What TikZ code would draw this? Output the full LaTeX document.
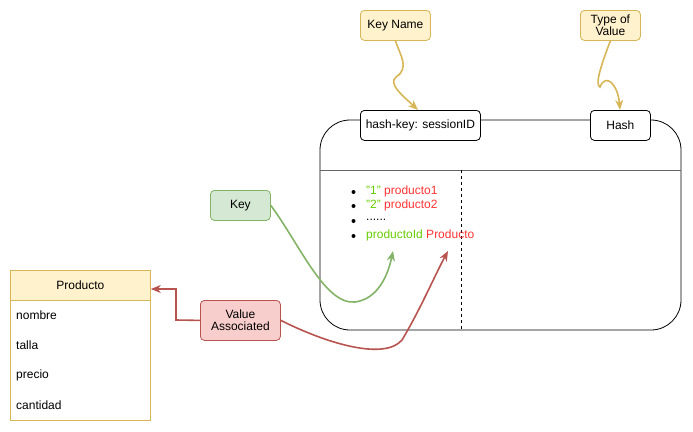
\documentclass[tikz,border=0pt]{standalone}
\usepackage{fontspec}
\setmainfont{Liberation Sans}
\usetikzlibrary{arrows.meta}
\definecolor{yfill}{HTML}{FFF2CC}
\definecolor{ydraw}{HTML}{D6B656}
\definecolor{gfill}{HTML}{D5E8D4}
\definecolor{gdraw}{HTML}{82B366}
\definecolor{rfill}{HTML}{F8CECC}
\definecolor{rdraw}{HTML}{B85450}
\definecolor{lgreen}{HTML}{66CC00}
\definecolor{lred}{HTML}{FF3333}
\definecolor{sepgray}{HTML}{666666}
\tikzset{
  txt/.style={font=\fontsize{12}{14}\selectfont},
  box/.style={txt, draw, rounded corners=4pt, line width=0.8pt, inner sep=0pt, align=center, anchor=north west},
  ybox/.style={box, fill=yfill, draw=ydraw},
  gbox/.style={box, fill=gfill, draw=gdraw},
  rbox/.style={box, fill=rfill, draw=rdraw},
  wbox/.style={box, fill=white, draw=black},
  conn/.style={line width=1.6pt, -{Stealth[length=10pt,width=8pt,inset=3pt]}},
  rowtxt/.style={txt, anchor=west, inner sep=0pt},
}
\begin{document}
\begin{tikzpicture}[x=1pt,y=-1pt]
\useasboundingbox (0,0) rectangle (693,431);
% container
\draw[line width=0.8pt, rounded corners=30pt] (320,120) rectangle (681,330);
\draw[sepgray, line width=0.8pt] (320,170) -- (681,170);
\draw[dashed, line width=0.8pt] (461,170) -- (461,330);
% header boxes
\node[wbox, minimum width=120pt, minimum height=30pt] (hk) at (360,110) {hash-key: sessionID};
\node[wbox, minimum width=60pt, minimum height=30pt] (hs) at (590,110) {Hash};
% labels
\node[ybox, minimum width=70pt, minimum height=30pt] (kn) at (360,10) {Key Name};
\node[ybox, minimum width=60pt, minimum height=30pt] (tv) at (580,10) {Type of\\[-2pt]Value};
\node[gbox, minimum width=60pt, minimum height=30pt] (key) at (210,190) {Key};
\node[rbox, minimum width=80pt, minimum height=40pt] (va) at (200,300) {Value\\[-2pt]Associated};
% list
\foreach \y/\t in {191/{\textcolor{lgreen}{"1"} \textcolor{lred}{producto1}},
                   205/{\textcolor{lgreen}{"2"} \textcolor{lred}{producto2}},
                   220/{......},
                   235/{\textcolor{lgreen}{productoId} \textcolor{lred}{Producto}}}{
  \fill (353.5,\y+1) circle (2pt);
  \node[rowtxt] at (366,\y) {\t};
}
% table
\node[draw=ydraw, fill=yfill, line width=0.8pt, minimum width=140pt, minimum height=30pt, inner sep=0pt, anchor=north west, txt] (prod) at (10,270) {Producto};
\draw[ydraw, line width=0.8pt] (10,300) rectangle (150,420);
\node[rowtxt] (r1) at (16,315) {nombre};
\node[rowtxt] (r2) at (16,345) {talla};
\node[rowtxt] (r3) at (16,375) {precio};
\node[rowtxt] (r4) at (16,405) {cantidad};
% targets
\coordinate (kt) at (393,251);
\coordinate (vt) at (448,251);
% connectors
\draw[conn, ydraw] (kn.south) .. controls (400,55) and (410,68) .. (396,77) .. controls (388,84) and (402,95) .. (hk.north -| 418,0);
\draw[conn, ydraw] (tv.south) .. controls (603,60) and (594,85) .. (600,87) .. controls (606,72) and (618,85) .. (hs.north -| 620,0);
\draw[conn, gdraw] (key.east) .. controls (300,245) and (325,305) .. (355,302) .. controls (378,299) and (388,275) .. (kt);
\draw[conn, rdraw] (va.east) .. controls (330,345) and (385,360) .. (402,340) .. controls (420,310) and (435,275) .. (vt);
\draw[conn, rdraw] (va.west) -- (176,320) -- (176,289) -- (prod.east |- 0,289);
\end{tikzpicture}
\end{document}
